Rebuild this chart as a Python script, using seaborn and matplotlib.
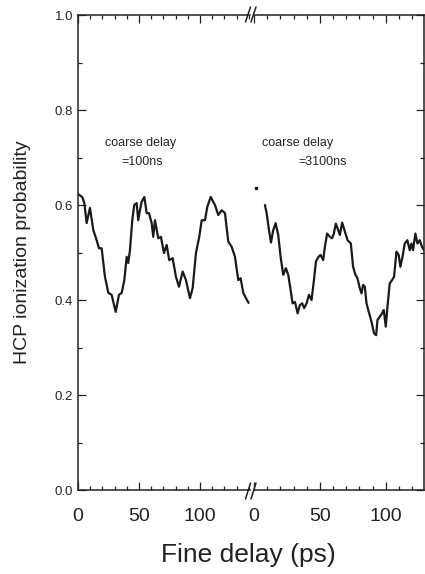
import numpy as np
import pandas as pd
import matplotlib
matplotlib.use("Agg")
import matplotlib.pyplot as plt
from matplotlib.ticker import MultipleLocator
import seaborn as sns

# coarse delay = 100 ns
left_ps = [0, 3.5, 5.2, 7.1, 9.8, 12.6, 15.3, 17.2, 19.4, 22.1, 24.9, 27.6, 30.9,
           33.6, 35.8, 38.0, 39.9, 41.2, 42.6, 44.5, 46.1, 48.1, 49.4, 50.8, 52.2,
           54.4, 56.3, 58.2, 60.4, 61.7, 63.1, 65.8, 68.0, 70.5, 72.7, 74.8, 77.6,
           80.3, 82.8, 85.8, 88.5, 91.8, 94.0, 96.7, 99.4, 101.4, 104.1, 106.0,
           108.8, 112.3, 115.0, 117.8, 120.5, 123.2, 126.0, 128.7, 131.4, 133.3,
           135.5, 137.7, 139.9]
left_prob = [0.623, 0.617, 0.604, 0.562, 0.594, 0.547, 0.526, 0.509, 0.509, 0.449,
             0.415, 0.411, 0.375, 0.411, 0.415, 0.442, 0.491, 0.478, 0.505, 0.568,
             0.600, 0.604, 0.568, 0.589, 0.607, 0.617, 0.583, 0.583, 0.562, 0.533,
             0.568, 0.530, 0.533, 0.499, 0.516, 0.484, 0.488, 0.449, 0.428, 0.460,
             0.442, 0.404, 0.425, 0.499, 0.533, 0.568, 0.568, 0.596, 0.617, 0.600,
             0.579, 0.589, 0.583, 0.523, 0.512, 0.491, 0.442, 0.446, 0.415, 0.404,
             0.394]

# coarse delay = 3100 ns
right_ps = [8.3, 9.6, 11.4, 12.9, 14.6, 16.4, 18.4, 20.2, 22.2, 24.2, 26.0, 27.8,
            29.3, 31.1, 33.1, 34.8, 36.6, 38.1, 39.9, 41.7, 43.7, 45.5, 47.0, 48.7,
            50.5, 52.5, 53.8, 55.5, 57.6, 59.3, 60.6, 62.1, 63.4, 65.2, 66.9, 69.0,
            71.0, 73.5, 75.2, 77.0, 78.5, 80.3, 81.6, 82.8, 84.1, 85.4, 87.1, 89.2,
            91.1, 92.7, 93.7, 95.5, 97.2, 98.5, 100.0, 101.3, 103.0, 104.8, 106.3,
            108.1, 109.8, 111.1, 112.7, 114.4, 116.4, 118.2, 119.5, 120.7, 122.5,
            124.0, 125.8, 127.5, 129.0]
right_prob = [0.600, 0.583, 0.547, 0.521, 0.547, 0.562, 0.537, 0.491, 0.453, 0.467,
              0.453, 0.421, 0.393, 0.396, 0.372, 0.389, 0.393, 0.383, 0.393, 0.411,
              0.400, 0.442, 0.481, 0.490, 0.495, 0.484, 0.512, 0.540, 0.533, 0.530,
              0.540, 0.561, 0.551, 0.537, 0.563, 0.544, 0.526, 0.519, 0.470, 0.453,
              0.446, 0.425, 0.414, 0.432, 0.428, 0.393, 0.375, 0.354, 0.330, 0.326,
              0.358, 0.365, 0.372, 0.379, 0.344, 0.386, 0.435, 0.442, 0.449, 0.502,
              0.495, 0.470, 0.491, 0.519, 0.526, 0.505, 0.519, 0.505, 0.540, 0.519,
              0.526, 0.512, 0.505]
right_dot_ps = [1.5]
right_dot_prob = [0.635]

sns.set_style("ticks")
plt.rcParams['font.family'] = ['Liberation Sans', 'DejaVu Sans']

fig = plt.figure(figsize=(4.25, 5.74), dpi=100)
bottom, height = 0.1463, 0.8275
axL = fig.add_axes([0.1835, bottom, 0.4047, height])
axR = fig.add_axes([0.5976, bottom, 0.4000, height])

dfL = pd.DataFrame({'ps': left_ps, 'prob': left_prob})
dfR = pd.DataFrame({'ps': right_ps, 'prob': right_prob})
sns.lineplot(data=dfL, x='ps', y='prob', ax=axL, color='#1a1a1a', lw=1.6, estimator=None)
sns.lineplot(data=dfR, x='ps', y='prob', ax=axR, color='#1a1a1a', lw=1.6, estimator=None)
axR.plot(right_dot_ps, right_dot_prob, 's', color='#1a1a1a', ms=1.5)

axL.set_xlim(0, 141)
axR.set_xlim(0, 129)
for ax in (axL, axR):
    ax.set_ylim(0, 1.0)
    ax.xaxis.set_major_locator(MultipleLocator(50))
    ax.xaxis.set_minor_locator(MultipleLocator(10))
    ax.yaxis.set_major_locator(MultipleLocator(0.2))
    ax.yaxis.set_minor_locator(MultipleLocator(0.1))
    ax.tick_params(which='both', direction='in', top=True, width=0.9, color='#222222')
    ax.tick_params(which='major', length=6)
    ax.tick_params(which='minor', length=3)
    ax.tick_params(axis='x', labelsize=14, pad=13, labelcolor='#222222')
    ax.set_xlabel('')
    ax.set_ylabel('')
    for s in ax.spines.values():
        s.set_linewidth(1.1)
        s.set_color('#222222')

axL.spines['right'].set_visible(False)
axL.tick_params(axis='y', which='both', left=True, right=False, labelsize=9.5,
                labelcolor='#222222')
axL.set_yticklabels([f'{v:.1f}' for v in axL.get_yticks()])
axR.spines['left'].set_visible(False)
axR.tick_params(axis='y', which='both', left=False, right=True, labelleft=False)

axL.set_ylabel('HCP ionization probability', fontsize=14, labelpad=17, color='#222222')
fig.text(0.585, 1 - 555 / 574, 'Fine delay (ps)', ha='center', va='center',
         fontsize=19, color='#222222')

axL.text(51, 0.73, 'coarse delay', ha='center', va='center', fontsize=9)
axL.text(53, 0.69, '=100ns', ha='center', va='center', fontsize=9)
axR.text(33, 0.73, 'coarse delay', ha='center', va='center', fontsize=9)
axR.text(52, 0.69, '=3100ns', ha='center', va='center', fontsize=9)

# axis break marks
W, H = 425, 574
for y0, y1 in [(499, 483), (22, 7)]:
    for dx in (0, 5.5):
        fig.add_artist(plt.Line2D([(245.5 + dx) / W, (250.5 + dx) / W],
                                  [1 - y0 / H, 1 - y1 / H],
                                  transform=fig.transFigure, color='#222222', lw=1.1))

fig.savefig('out.png', dpi=100)
